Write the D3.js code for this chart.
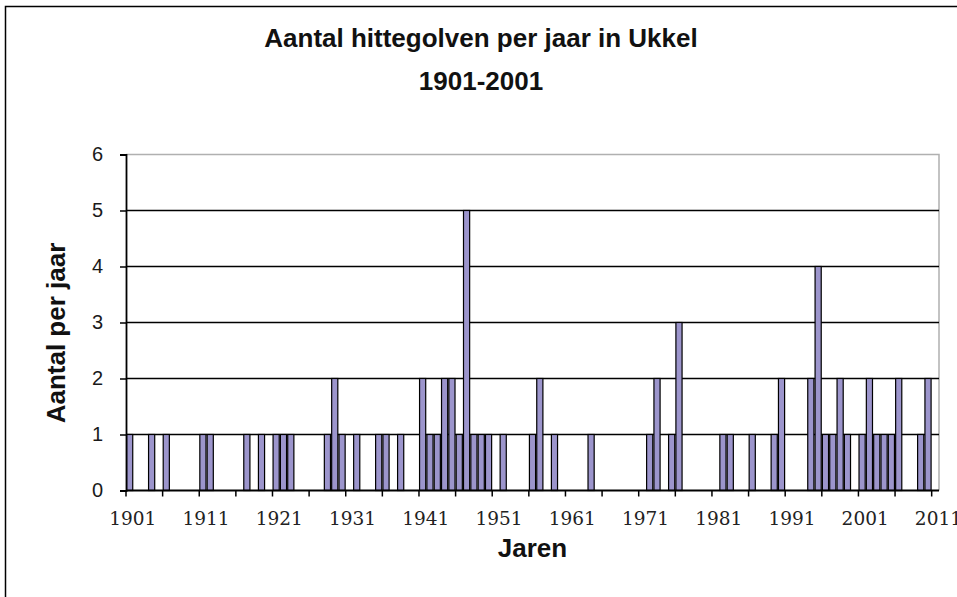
<!DOCTYPE html>
<html>
<head>
<meta charset="utf-8">
<script src="https://cdn.jsdelivr.net/npm/d3@7"></script>
<style>
  body { margin: 0; background: #fff; }
  svg { display: block; }
</style>
</head>
<body>
<svg width="957" height="597"></svg>
<script>
// years with at least one heat wave (other years are 0)
var heatYears = [1901, 1904, 1906, 1911, 1912, 1917, 1919, 1921, 1922, 1923,
    1928, 1929, 1930, 1932, 1935, 1936, 1938, 1941, 1942, 1943,
    1944, 1945, 1946, 1947, 1948, 1949, 1950, 1952, 1956, 1957,
    1959, 1964, 1972, 1973, 1975, 1976, 1982, 1983, 1986, 1989,
    1990, 1994, 1995, 1996, 1997, 1998, 1999, 2001, 2002, 2003,
    2004, 2005, 2006, 2009, 2010];
var heatCounts = [1, 1, 1, 1, 1, 1, 1, 1, 1, 1,
    1, 2, 1, 1, 1, 1, 1, 2, 1, 1,
    2, 2, 1, 5, 1, 1, 1, 1, 1, 2,
    1, 1, 1, 2, 1, 3, 1, 1, 1, 1,
    2, 2, 4, 1, 1, 2, 1, 1, 2, 1,
    1, 1, 2, 1, 2];
var firstYear = 1901,
    lastYear = 2011;
var xTickYears = [1901, 1906, 1911, 1916, 1921, 1926, 1931, 1936, 1941, 1946, 1951,
    1956, 1961, 1966, 1971, 1976, 1981, 1986, 1991, 1996, 2001, 2006, 2011];
var xLabels = ["1901", "1911", "1921", "1931", "1941", "1951",
    "1961", "1971", "1981", "1991", "2001", "2011"];
var yTicks = [0, 1, 2, 3, 4, 5, 6];

var svg = d3.select("svg"),
    plot = { left: 126, right: 939, top: 154.5, bottom: 490.5 };

var data = heatYears.map(function(y, i) {
    return { year: y, count: heatCounts[i] };
});

var x = d3.scaleBand()
    .domain(d3.range(firstYear, lastYear + 1))
    .range([plot.left, plot.right])
    .paddingInner(0.16)
    .paddingOuter(0.08);

var y = d3.scaleLinear()
    .domain([0, 6])
    .range([plot.bottom, plot.top]);

// left edge of a category slot
function slot(year) {
    return x(year) - x.step() * x.paddingOuter();
}

// outer frame
svg.append("rect")
    .attr("x", 5.5)
    .attr("y", 6.5)
    .attr("width", 960)
    .attr("height", 600)
    .attr("fill", "none")
    .attr("stroke", "#000")
    .attr("stroke-width", 1.5);

// titles
svg.append("text")
    .attr("x", 481)
    .attr("y", 46.5)
    .attr("text-anchor", "middle")
    .style("font", "bold 26px 'Liberation Sans', Arial, sans-serif")
    .style("fill", "#111")
    .text("Aantal hittegolven per jaar in Ukkel");
svg.append("text")
    .attr("x", 481)
    .attr("y", 90)
    .attr("text-anchor", "middle")
    .style("font", "bold 26px 'Liberation Sans', Arial, sans-serif")
    .style("fill", "#111")
    .text("1901-2001");

// plot area border (grey)
svg.append("path")
    .attr("d", "M" + plot.left + "," + plot.top + "H" + plot.right + "V" + plot.bottom)
    .attr("fill", "none")
    .attr("stroke", "#b0b0b0")
    .attr("stroke-width", 1.5);

// gridlines
svg.append("g")
    .selectAll("line")
    .data(yTicks.filter(function(d) { return d > 0 && d < 6; }))
    .enter().append("line")
    .attr("x1", plot.left)
    .attr("x2", plot.right)
    .attr("y1", function(d) { return y(d); })
    .attr("y2", function(d) { return y(d); })
    .attr("stroke", "#000")
    .attr("stroke-width", 1.4);

// bars
svg.append("g")
    .selectAll("rect")
    .data(data)
    .enter().append("rect")
    .attr("x", function(d) { return x(d.year); })
    .attr("width", x.bandwidth())
    .attr("y", function(d) { return y(d.count); })
    .attr("height", function(d) { return y(0) - y(d.count); })
    .attr("fill", "#9c95cc")
    .attr("stroke", "#000")
    .attr("stroke-width", 1.2);

// y axis
var yAxis = svg.append("g")
    .attr("transform", "translate(" + plot.left + ",0)")
    .call(d3.axisLeft(y).tickValues(yTicks).tickSize(6).tickPadding(17).tickFormat(d3.format("d")));
yAxis.select(".domain").attr("stroke", "#000").attr("stroke-width", 1.8);
yAxis.selectAll(".tick line").attr("stroke", "#000").attr("stroke-width", 1.5);
yAxis.selectAll(".tick text")
    .attr("dy", "0.28em")
    .style("font", "20px 'Liberation Sans', Arial, sans-serif")
    .style("fill", "#1a1a1a");

// x axis
var xAxis = svg.append("g");
xAxis.append("line")
    .attr("x1", plot.left)
    .attr("x2", plot.right)
    .attr("y1", plot.bottom)
    .attr("y2", plot.bottom)
    .attr("stroke", "#000")
    .attr("stroke-width", 1.8);
xAxis.selectAll(".xtick")
    .data(xTickYears)
    .enter().append("line")
    .attr("class", "xtick")
    .attr("x1", slot)
    .attr("x2", slot)
    .attr("y1", plot.bottom)
    .attr("y2", plot.bottom + 6)
    .attr("stroke", "#000")
    .attr("stroke-width", 1.5);
xAxis.selectAll(".xlabel")
    .data(xLabels)
    .enter().append("text")
    .attr("class", "xlabel")
    .attr("x", function(d) { return x(+d) + x.bandwidth(); })
    .attr("y", 525)
    .attr("text-anchor", "middle")
    .style("font", "18.5px 'DejaVu Serif', serif")
    .style("fill", "#222")
    .text(function(d) { return d; });

// axis titles
svg.append("text")
    .attr("x", (plot.left + plot.right) / 2)
    .attr("y", 557)
    .attr("text-anchor", "middle")
    .style("font", "bold 26px 'Liberation Sans', Arial, sans-serif")
    .style("fill", "#111")
    .text("Jaren");
svg.append("text")
    .attr("transform", "translate(65,333) rotate(-90)")
    .attr("text-anchor", "middle")
    .style("font", "bold 26px 'Liberation Sans', Arial, sans-serif")
    .style("fill", "#111")
    .text("Aantal per jaar");
</script>
</body>
</html>
